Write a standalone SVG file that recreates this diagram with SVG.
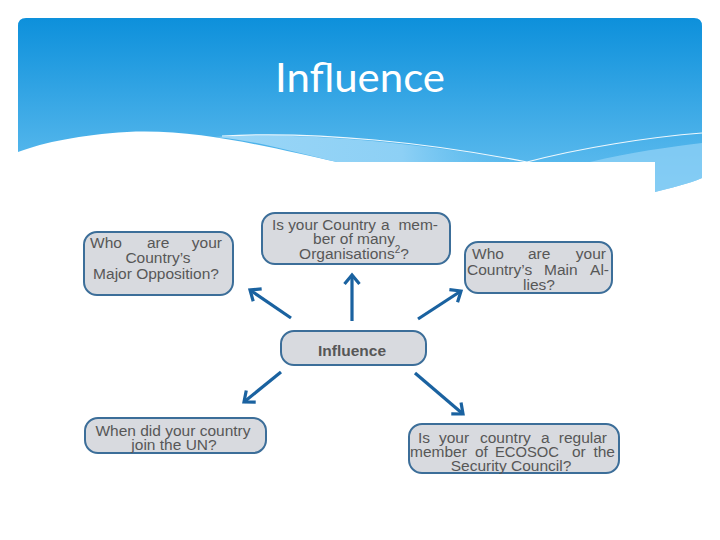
<svg xmlns="http://www.w3.org/2000/svg" width="720" height="540" viewBox="0 0 720 540">
<defs>
<linearGradient id="bg" x1="0" y1="0" x2="0" y2="1" gradientUnits="objectBoundingBox">
<stop offset="0" stop-color="#0d90db"/>
<stop offset="1" stop-color="#66c0f0"/>
</linearGradient>
<linearGradient id="band" x1="0" y1="0" x2="1" y2="0">
<stop offset="0" stop-color="#9ad6f7"/>
<stop offset="0.6" stop-color="#8dd0f5"/>
<stop offset="1" stop-color="#6cc3f1" stop-opacity="0"/>
</linearGradient>
<marker id="ah" markerUnits="userSpaceOnUse" markerWidth="20" markerHeight="20" viewBox="-14 -10 20 20" refX="0" refY="0" orient="auto">
<path d="M-9,-7.5 L0,0 L-9,7.5" fill="none" stroke="#1a62a0" stroke-width="3.2" stroke-linejoin="miter"/>
</marker>
</defs>
<style>
.box{fill:#d8dadf;stroke:#3c6e99;stroke-width:2}
.t{font-family:"Liberation Sans",Arial,sans-serif;font-size:15.5px;fill:#575757}
.c{text-anchor:middle}
.e{text-anchor:end}
.ar{stroke:#1a62a0;stroke-width:3.2;fill:none;marker-end:url(#ah)}
</style>
<rect width="720" height="540" fill="#fff"/>
<g id="banner">
<path d="M18,26 Q18,18 26,18 L694,18 Q702,18 702,26 L702,178 C688,184 670,188 655,192 L655,162 L337,162 C280,150 200,128 127,132 C80,135 45,142 18,152 Z" fill="url(#bg)"/>
<path d="M215,137 C300,131 420,143 527,162 L337,162 C300,154 260,141 215,137 Z" fill="url(#band)"/>
<path d="M590,162 C630,152 670,147 702,143 L702,178 C688,184 670,188 655,192 L655,162 Z" fill="#8ccff5" opacity="0.8"/>
<path d="M222,136 C320,131 430,143 527,162 C580,148 650,137 702,133" fill="none" stroke="#ffffff" stroke-width="1.2" opacity="0.9"/>
<text x="360" y="92" text-anchor="middle" font-family="Lato,'Open Sans',sans-serif" font-size="40" fill="#ffffff" textLength="170" lengthAdjust="spacingAndGlyphs">Influence</text>
</g>
<g id="connectors">
<line class="ar" x1="291" y1="318" x2="250" y2="290"/>
<line class="ar" x1="352" y1="321" x2="352" y2="275"/>
<line class="ar" x1="418" y1="319" x2="461" y2="291"/>
<line class="ar" x1="281" y1="372" x2="244" y2="402"/>
<line class="ar" x1="415" y1="373" x2="463" y2="414"/>
</g>
<g id="n-opposition">
<rect class="box" x="84" y="232" width="149" height="63" rx="13"/>
<text class="t" x="90" y="248">Who</text>
<text class="t" x="147" y="248">are</text>
<text class="t e" x="222" y="248">your</text>
<text class="t c" x="158" y="263">Country’s</text>
<text class="t c" x="156" y="279">Major Opposition?</text>
</g>
<g id="n-organisations">
<rect class="box" x="262" y="213" width="188" height="51" rx="13"/>
<text class="t" x="272" y="230" textLength="104" lengthAdjust="spacingAndGlyphs">Is your Country</text>
<text class="t" x="381" y="230">a</text>
<text class="t e" x="438" y="230">mem-</text>
<text class="t c" x="354" y="244">ber of many</text>
<text class="t c" x="354" y="259">Organisations<tspan font-size="10" dy="-6">2</tspan><tspan dy="6">?</tspan></text>
</g>
<g id="n-allies">
<rect class="box" x="465" y="242" width="147" height="51" rx="13"/>
<text class="t" x="472" y="259">Who</text>
<text class="t" x="528" y="259">are</text>
<text class="t e" x="606" y="259">your</text>
<text class="t" x="467" y="275">Country’s</text>
<text class="t" x="544" y="275">Main</text>
<text class="t e" x="609" y="275">Al-</text>
<text class="t c" x="539" y="290">lies?</text>
</g>
<g id="n-influence">
<rect class="box" x="281" y="331" width="145" height="34" rx="13"/>
<text class="t c" x="352" y="356" font-weight="bold" fill="#666">Influence</text>
</g>
<g id="n-un">
<rect class="box" x="85" y="418" width="181" height="35" rx="13"/>
<text class="t c" x="173" y="436">When did your country</text>
<text class="t c" x="174" y="450">join the UN?</text>
</g>
<g id="n-ecosoc">
<rect class="box" x="409" y="424" width="210" height="49" rx="13"/>
<text class="t" x="418" y="443">Is</text>
<text class="t" x="439" y="443">your</text>
<text class="t" x="480" y="443">country</text>
<text class="t" x="541" y="443">a</text>
<text class="t e" x="607" y="443">regular</text>
<text class="t" x="410" y="457">member</text>
<text class="t" x="475" y="457">of</text>
<text class="t" x="495" y="457" textLength="64" lengthAdjust="spacingAndGlyphs">ECOSOC</text>
<text class="t" x="572" y="457">or</text>
<text class="t e" x="615" y="457">the</text>
<text class="t c" x="511" y="471">Security Council?</text>
</g>
</svg>
